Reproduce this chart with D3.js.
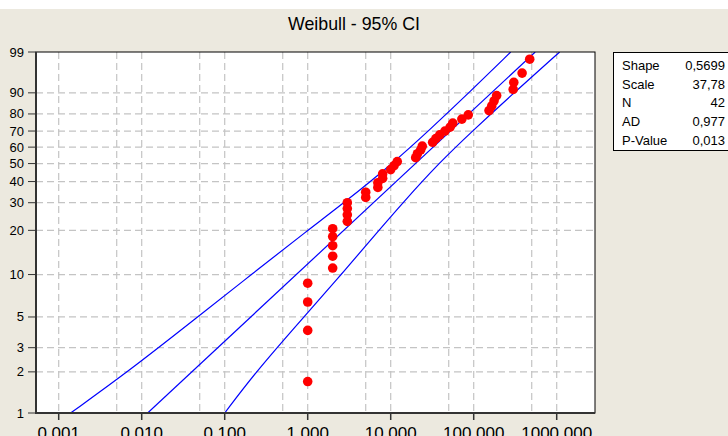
<html>
<head>
<script src="https://d3js.org/d3.v7.min.js"></script>
<style>
body { margin: 0; background: #ECE9DF; }
text { font-family: "Liberation Sans", Arial, sans-serif; fill: #000; }
</style>
</head>
<body>
<svg id="plot"></svg>
<script>

//data
var times = [1,1,1,1, 2,2,2,2,2, 3,3,3,3, 5,5, 7,7,8,8, 10,11,12, 20,21,23,24,
             32,35,39,45, 52,56,72,86, 153,165,176,189, 299,304,383,473];
var percents = [1.7,4.0,6.4,8.7, 11.1,13.4,15.8,18.2,20.5, 22.9,25.2,27.6,30.0, 32.3,34.7,
                37.0,39.4,41.7,44.1, 46.5,48.8,51.2, 53.5,55.9,58.3,60.6,
                63.0,65.3,67.7,70.0, 72.4,74.8,77.1,79.5, 81.8,84.2,86.6,88.9,
                91.3,93.6,96.0,98.3];

//fitted weibull
var fitShape = 0.5699;
var fitScale = 37.78;

//95% CI band
var bandPct   = [1, 2, 5, 10, 20, 30, 50, 70, 90, 99];
var bandUpper = [0.00139, 0.00681, 0.0473, 0.209, 1.0, 2.75, 10.5, 28.4, 87.5, 279];
var bandLower = [0.100, 0.237, 0.897, 2.54, 7.2, 14.0, 37.6, 96.4, 305, 1086];

//axes
var yTicks = [1,2,3,5,10,20,30,40,50,60,70,80,90,99];
var xTicks = [0.001,0.01,0.1,1,10,100,1000];
var xTickLabels = ["0,001","0,010","0,100","1,000","10,000","100,000","1000,000"];
var xGrid = [0.001,0.005,0.01,0.05,0.1,0.5,1,5,10,50,100,500,1000];

//stats box
var statNames = ["Shape","Scale","N","AD","P-Value"];
var statValues = ["0,5699","37,78","42","0,977","0,013"];

var width = 728;
var height = 436;
var pLeft = 36, pRight = 595, pTop = 52, pBottom = 413;

var svg = d3.select("#plot")
    .attr("width", width)
    .attr("height", height);

//weibull probability transform
var wb = function(p)
{
    return Math.log(-Math.log(1 - p/100));
}

var xScale = d3.scaleLog()
    .domain([Math.pow(10,-3.2735), Math.pow(10,3.4614)])
    .range([pLeft, pRight]);

var yScale = d3.scaleLinear()
    .domain([wb(1), wb(99)])
    .range([pBottom, pTop]);

//background
svg.append("rect")
    .attr("width", width).attr("height", height)
    .attr("fill", "#ECE9DF");
svg.append("rect")
    .attr("width", width).attr("height", 9)
    .attr("fill", "#fff");

//title
svg.append("text")
    .attr("x", 354).attr("y", 30)
    .attr("text-anchor", "middle")
    .attr("font-size", 19)
    .attr("textLength", 132)
    .attr("lengthAdjust", "spacingAndGlyphs")
    .text("Weibull - 95% CI");

//plot area
svg.append("rect")
    .attr("x", pLeft).attr("y", pTop)
    .attr("width", pRight-pLeft).attr("height", pBottom-pTop)
    .attr("fill", "#fff");

svg.append("clipPath").attr("id", "clip")
    .append("rect")
    .attr("x", pLeft).attr("y", pTop)
    .attr("width", pRight-pLeft).attr("height", pBottom-pTop);

//grid
svg.append("g").selectAll("line")
    .data(yTicks.filter(function(d){ return d > 1 && d < 99; }))
    .enter().append("line")
    .attr("x1", pLeft).attr("x2", pRight)
    .attr("y1", function(d){ return yScale(wb(d)); })
    .attr("y2", function(d){ return yScale(wb(d)); })
    .attr("stroke", "#c4c4c4")
    .attr("stroke-width", 1.2)
    .attr("stroke-dasharray", "7,4");

svg.append("g").selectAll("line")
    .data(xGrid)
    .enter().append("line")
    .attr("x1", function(d){ return xScale(d); })
    .attr("x2", function(d){ return xScale(d); })
    .attr("y1", pTop).attr("y2", pBottom)
    .attr("stroke", "#c4c4c4")
    .attr("stroke-width", 1.2)
    .attr("stroke-dasharray", "7,4");

//lines
var plotArea = svg.append("g").attr("clip-path", "url(#clip)");

var line = d3.line()
    .x(function(d){ return xScale(d[0]); })
    .y(function(d){ return yScale(wb(d[1])); })
    .curve(d3.curveBasis);

var fitLine = [1, 99].map(function(p)
{
    return [fitScale * Math.pow(-Math.log(1 - p/100), 1/fitShape), p];
});

plotArea.append("path")
    .datum(bandPct.map(function(p, i){ return [bandUpper[i], p]; }))
    .attr("d", line)
    .attr("fill", "none").attr("stroke", "#0000ff").attr("stroke-width", 1.2);

plotArea.append("path")
    .datum(fitLine)
    .attr("d", d3.line()
        .x(function(d){ return xScale(d[0]); })
        .y(function(d){ return yScale(wb(d[1])); }))
    .attr("fill", "none").attr("stroke", "#0000ff").attr("stroke-width", 1.2);

plotArea.append("path")
    .datum(bandPct.map(function(p, i){ return [bandLower[i], p]; }))
    .attr("d", line)
    .attr("fill", "none").attr("stroke", "#0000ff").attr("stroke-width", 1.2);

//dots
svg.append("g").selectAll("circle")
    .data(times)
    .enter().append("circle")
    .attr("cx", function(d){ return xScale(d); })
    .attr("cy", function(d, i){ return yScale(wb(percents[i])); })
    .attr("r", 4.8)
    .attr("fill", "#ff0000");

//frame
svg.append("rect")
    .attr("x", pLeft).attr("y", pTop)
    .attr("width", pRight-pLeft).attr("height", pBottom-pTop)
    .attr("fill", "none").attr("stroke", "#000").attr("stroke-width", 1);
svg.append("line")
    .attr("x1", pLeft).attr("x2", pLeft).attr("y1", pTop).attr("y2", pBottom+1)
    .attr("stroke", "#333").attr("stroke-width", 2);
svg.append("line")
    .attr("x1", pLeft-1).attr("x2", pRight).attr("y1", pBottom).attr("y2", pBottom)
    .attr("stroke", "#333").attr("stroke-width", 2);

//y axis
var yAxis = svg.append("g");
yAxis.selectAll("line")
    .data(yTicks).enter().append("line")
    .attr("x1", 28).attr("x2", pLeft)
    .attr("y1", function(d){ return yScale(wb(d)); })
    .attr("y2", function(d){ return yScale(wb(d)); })
    .attr("stroke", "#333").attr("stroke-width", 1);
yAxis.selectAll("text")
    .data(yTicks).enter().append("text")
    .attr("x", 24)
    .attr("y", function(d){ return yScale(wb(d)) + 4.5; })
    .attr("text-anchor", "end")
    .attr("font-size", 13)
    .text(function(d){ return d; });

//x axis
var xAxis = svg.append("g");
xAxis.selectAll("line")
    .data(xTicks).enter().append("line")
    .attr("x1", function(d){ return xScale(d); })
    .attr("x2", function(d){ return xScale(d); })
    .attr("y1", pBottom).attr("y2", pBottom + 7)
    .attr("stroke", "#333").attr("stroke-width", 1.5);
xAxis.selectAll("text")
    .data(xTicks).enter().append("text")
    .attr("x", function(d){ return xScale(d); })
    .attr("y", 439)
    .attr("text-anchor", "middle")
    .attr("font-size", 17)
    .text(function(d, i){ return xTickLabels[i]; });

//stats box
svg.append("rect")
    .attr("x", 613.5).attr("y", 52.5)
    .attr("width", 120).attr("height", 98)
    .attr("fill", "#fff").attr("stroke", "#000");

var stats = svg.append("g");
stats.selectAll(".name")
    .data(statNames).enter().append("text")
    .attr("class", "name")
    .attr("x", 622)
    .attr("y", function(d, i){ return 70 + i*18.7; })
    .attr("font-size", 13)
    .text(function(d){ return d; });
stats.selectAll(".val")
    .data(statValues).enter().append("text")
    .attr("class", "val")
    .attr("x", 725)
    .attr("y", function(d, i){ return 70 + i*18.7; })
    .attr("text-anchor", "end")
    .attr("font-size", 13)
    .text(function(d){ return d; });

</script>
</body>
</html>
